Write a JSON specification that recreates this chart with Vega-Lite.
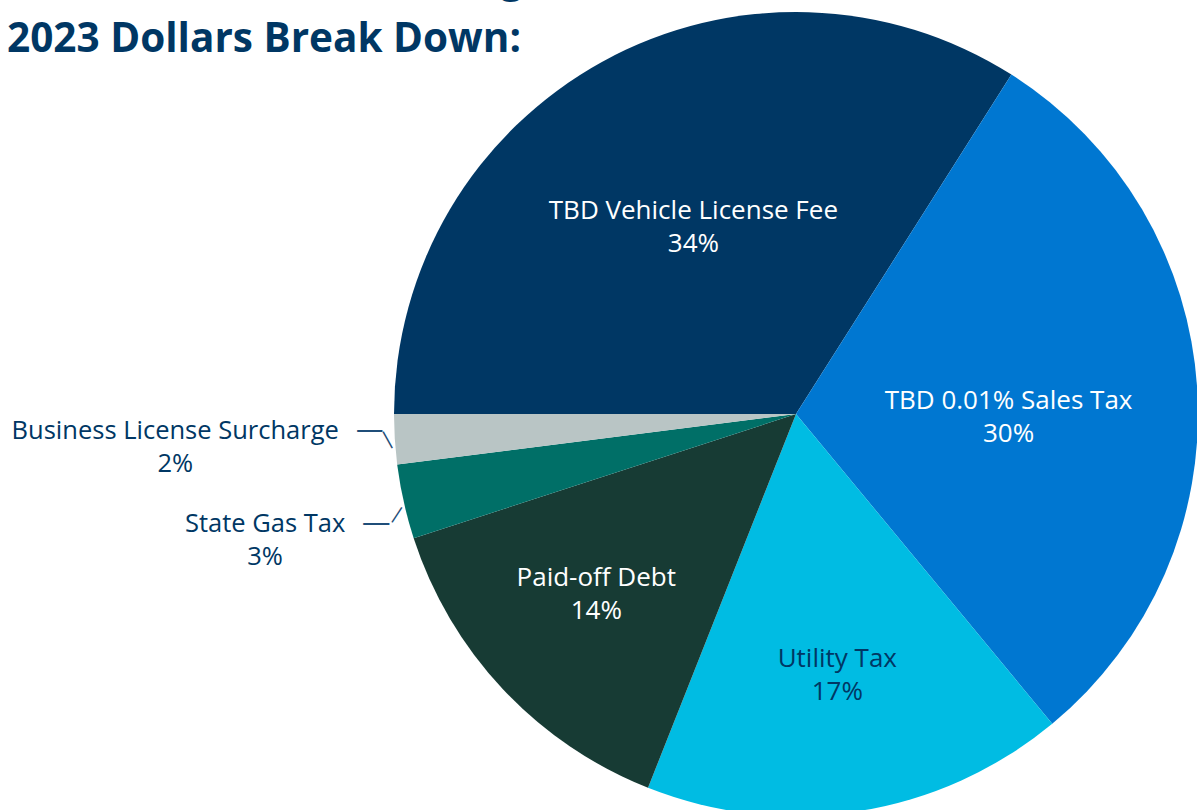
{
  "$schema": "https://vega.github.io/schema/vega-lite/v6.json",
  "width": 804,
  "height": 804,
  "autosize": "none",
  "padding": {"left": 394, "top": 12, "right": 0, "bottom": 0},
  "background": "white",
  "config": {"view": {"stroke": null}},
  "title": {
    "text": ["Revenue Sources Funding", "2023 Dollars Break Down:"],
    "anchor": "start",
    "frame": "group",
    "font": "Open Sans",
    "fontSize": 40.5,
    "fontWeight": "bold",
    "color": "#003764",
    "lineHeight": 60,
    "baseline": "top",
    "dx": -387,
    "dy": 226,
    "offset": 0
  },
  "data": {
    "values": [
      {"rank": 1, "source": "TBD Vehicle License Fee", "pct": 34, "label": "TBD Vehicle License Fee\n34%"},
      {"rank": 2, "source": "TBD 0.01% Sales Tax", "pct": 30, "label": "TBD 0.01% Sales Tax\n30%"},
      {"rank": 3, "source": "Utility Tax", "pct": 17, "label": "Utility Tax\n17%"},
      {"rank": 4, "source": "Paid-off Debt", "pct": 14, "label": "Paid-off Debt\n14%"},
      {"rank": 5, "source": "State Gas Tax", "pct": 3, "label": "State Gas Tax\n3%"},
      {"rank": 6, "source": "Business License Surcharge", "pct": 2, "label": "Business License Surcharge\n2%"}
    ]
  },
  "encoding": {
    "theta": {"field": "pct", "type": "quantitative", "stack": true, "scale": {"range": [4.712389, 10.995574]}},
    "order": {"field": "rank", "type": "quantitative", "sort": "ascending"}
  },
  "layer": [
    {
      "mark": {"type": "arc", "outerRadius": 402},
      "encoding": {
        "color": {
          "field": "source",
          "type": "nominal",
          "legend": null,
          "scale": {
            "domain": ["TBD Vehicle License Fee", "TBD 0.01% Sales Tax", "Utility Tax", "Paid-off Debt", "State Gas Tax", "Business License Surcharge"],
            "range": ["#003764", "#0077D1", "#00BCE3", "#173B34", "#006F67", "#B9C5C5"]
          }
        }
      }
    },
    {
      "mark": {"type": "text", "radius": 213, "dy": -16, "fill": "white", "font": "Open Sans", "fontSize": 26, "lineBreak": "\n", "lineHeight": 33, "align": "center", "baseline": "middle"},
      "encoding": {"text": {"condition": {"test": "datum.rank == 1", "field": "label"}, "value": ""}}
    },
    {
      "mark": {"type": "text", "radius": 213, "dy": 0, "fill": "white", "font": "Open Sans", "fontSize": 26, "lineBreak": "\n", "lineHeight": 33, "align": "center", "baseline": "middle"},
      "encoding": {"text": {"condition": {"test": "datum.rank == 2", "field": "label"}, "value": ""}}
    },
    {
      "mark": {"type": "text", "radius": 264, "dy": -16, "fill": "#003764", "font": "Open Sans", "fontSize": 26, "lineBreak": "\n", "lineHeight": 33, "align": "center", "baseline": "middle"},
      "encoding": {"text": {"condition": {"test": "datum.rank == 3", "field": "label"}, "value": ""}}
    },
    {
      "mark": {"type": "text", "radius": 274, "dy": -24, "fill": "white", "font": "Open Sans", "fontSize": 26, "lineBreak": "\n", "lineHeight": 33, "align": "center", "baseline": "middle"},
      "encoding": {"text": {"condition": {"test": "datum.rank == 4", "field": "label"}, "value": ""}}
    },
    {
      "mark": {"type": "text", "radius": 544, "dy": -9, "fill": "#003764", "font": "Open Sans", "fontSize": 25.5, "lineBreak": "\n", "lineHeight": 33, "align": "center", "baseline": "middle"},
      "encoding": {"text": {"condition": {"test": "datum.rank == 5", "field": "label"}, "value": ""}}
    },
    {
      "mark": {"type": "text", "radius": 622, "dy": -22, "fill": "#003764", "font": "Open Sans", "fontSize": 25.5, "lineBreak": "\n", "lineHeight": 33, "align": "center", "baseline": "middle"},
      "encoding": {"text": {"condition": {"test": "datum.rank == 6", "field": "label"}, "value": ""}}
    },
    {
      "mark": {"type": "text", "radius": 427, "dy": -9.8, "fill": "#1F4E79", "font": "DejaVu Sans", "fontSize": 28, "align": "center", "baseline": "middle"},
      "encoding": {"text": {"condition": {"test": "datum.rank == 6", "value": "—"}, "value": ""}}
    },
    {
      "mark": {"type": "text", "radius": 409, "angle": 61, "fill": "#1F4E79", "font": "DejaVu Sans", "fontSize": 21, "align": "center", "baseline": "middle"},
      "encoding": {"text": {"condition": {"test": "datum.rank == 6", "value": "—"}, "value": ""}}
    },
    {
      "mark": {"type": "text", "radius": 430, "dy": 15.2, "fill": "#1F4E79", "font": "DejaVu Sans", "fontSize": 29, "align": "center", "baseline": "middle"},
      "encoding": {"text": {"condition": {"test": "datum.rank == 5", "value": "—"}, "value": ""}}
    },
    {
      "mark": {"type": "text", "radius": 409.4, "angle": 303, "dx": -9.4, "dy": 6.1, "fill": "#1F4E79", "font": "DejaVu Sans", "fontSize": 20, "align": "center", "baseline": "middle"},
      "encoding": {"text": {"condition": {"test": "datum.rank == 5", "value": "—"}, "value": ""}}
    }
  ]
}
